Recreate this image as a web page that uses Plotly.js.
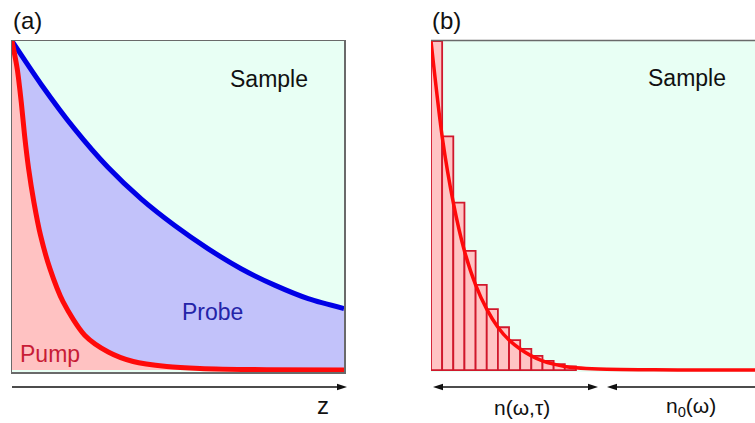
<!DOCTYPE html>
<html><head><meta charset="utf-8">
<script src="https://cdn.plot.ly/plotly-3.0.1.min.js"></script>
<style>html,body{margin:0;padding:0;background:#fff}#chart{width:755px;height:423px}</style>
</head><body><div id="chart"></div>
<script>
// Panel (a): depth z and normalised intensities
const pumpZ = [0, 0.16, 0.28, 0.38, 0.50, 0.66, 0.86, 1.14, 1.54, 2.19, 2.9, 3.65, 4.66, 5.66, 7.67, 10];
const pumpI = [1, 0.914, 0.813, 0.712, 0.612, 0.51, 0.409, 0.309, 0.207, 0.106, 0.055, 0.026, 0.011, 0.005, 0.001, 0];
const probeZ = [0, 0.88, 1.89, 2.89, 3.89, 4.90, 5.90, 6.90, 7.91, 8.92, 10];
const probeI = [1, 0.868, 0.732, 0.616, 0.52, 0.439, 0.369, 0.308, 0.258, 0.217, 0.187];

// Panel (b): discretised slabs and the continuous distribution
const slabX = [0.5, 1.5, 2.5, 3.5, 4.5, 5.5, 6.5, 7.5, 8.5, 9.5, 10.5, 11.5, 12.5];
const slabN = [1.0, 0.71, 0.509, 0.362, 0.259, 0.185, 0.13, 0.091, 0.064, 0.043, 0.028, 0.018, 0.011];
const distX = [0, 1, 2, 3, 4, 5, 6, 7, 8, 9, 10, 11, 12, 13, 15, 17, 20, 24, 29.1];
const distN = [1.0, 0.71, 0.509, 0.362, 0.259, 0.185, 0.13, 0.091, 0.064, 0.043, 0.028, 0.018, 0.011, 0.007, 0.003, 0.0015, 0.0005, 0, 0];

const labels = {a: '(a)', b: '(b)', sample: 'Sample', probe: 'Probe', pump: 'Pump', z: 'z',
  nLeft: 'n(ω,τ)', nRight: 'n<sub>0</sub>(ω)'};

const W = 755, H = 423;
const px = x => x / W, py = y => (H - y) / H;
const FONT = '"Liberation Sans", Arial, sans-serif';

const traces = [
  {x: pumpZ, y: pumpI, xaxis: 'x', yaxis: 'y', mode: 'lines', fill: 'tozeroy',
   fillcolor: '#ffc2c2', line: {width: 0, shape: 'spline', smoothing: 0.8}, hoverinfo: 'skip'},
  {x: probeZ, y: probeI, xaxis: 'x', yaxis: 'y', mode: 'lines', fill: 'tonexty',
   fillcolor: '#c2c2fa', line: {width: 0, shape: 'spline', smoothing: 0.8}, hoverinfo: 'skip'},
  {x: probeZ, y: probeI, xaxis: 'x', yaxis: 'y', mode: 'lines',
   line: {color: '#0000e6', width: 5, shape: 'spline', smoothing: 0.8}},
  {x: pumpZ, y: pumpI, xaxis: 'x', yaxis: 'y', mode: 'lines',
   line: {color: '#ff0a0a', width: 5, shape: 'spline', smoothing: 0.8}},
  {type: 'bar', x: slabX, y: slabN, width: 1, xaxis: 'x2', yaxis: 'y2',
   marker: {color: '#ffc4c4', line: {color: '#d0182c', width: 1.8}}},
  {x: distX, y: distN, xaxis: 'x2', yaxis: 'y2', mode: 'lines',
   line: {color: '#ff0a0a', width: 3.5, shape: 'spline', smoothing: 0.8}}
];

const yr = [-0.006, 1.0];
const ydom = [51 / H, 382 / H];
const hide = {showgrid: false, zeroline: false, showticklabels: false, ticks: ''};

const textAnn = (t, x, y, size, color, xanchor) => ({
  text: t, xref: 'paper', yref: 'paper', x: px(x), y: py(y), showarrow: false,
  xanchor: xanchor || 'center', yanchor: 'middle',
  font: {family: FONT, size: size, color: color}
});

// arrow drawing helpers (pixel positions -> paper shapes)
const ARROW = '#111';
const shaft = (x0, x1, y) => ({type: 'line', xref: 'paper', yref: 'paper',
  x0: px(x0), x1: px(x1), y0: py(y), y1: py(y), line: {color: ARROW, width: 1.4}});
const head = (xTip, y, dir) => {
  const L = 10, h = 3.2, xb = xTip - dir * L;
  return {type: 'path', xref: 'paper', yref: 'paper', fillcolor: ARROW, line: {width: 0},
    path: `M ${px(xTip)} ${py(y)} L ${px(xb)} ${py(y - h)} L ${px(xb)} ${py(y + h)} Z`};
};

const layout = {
  width: W, height: H, margin: {l: 0, r: 0, t: 0, b: 0}, showlegend: false,
  paper_bgcolor: '#ffffff', plot_bgcolor: '#e8fff4',
  font: {family: FONT},
  xaxis: Object.assign({domain: [12 / W, 344 / W], range: [0, 10], anchor: 'y',
    showline: true, mirror: true, linecolor: '#6a6a6a', linewidth: 1.5}, hide),
  yaxis: Object.assign({domain: ydom, range: yr, anchor: 'x',
    showline: true, mirror: true, linecolor: '#6a6a6a', linewidth: 1.5}, hide),
  xaxis2: Object.assign({domain: [431 / W, 1], range: [0, 29.06], anchor: 'y2', showline: false}, hide),
  yaxis2: Object.assign({domain: ydom, range: yr, anchor: 'x2', showline: false}, hide),
  bargap: 0,
  shapes: [
    {type: 'line', xref: 'paper', yref: 'paper', x0: px(431), x1: 1, y0: py(40.5), y1: py(40.5),
     line: {color: '#6a6a6a', width: 1.5}},
    shaft(12, 340, 387), head(347, 387, 1),
    shaft(436, 594, 387), head(433, 387, -1), head(598, 387, 1),
    shaft(611, 755, 387), head(607, 387, -1)
  ],
  annotations: [
    textAnn(labels.a, 11, 21, 24, '#111', 'left'),
    textAnn(labels.b, 430, 21, 24, '#111', 'left'),
    textAnn(labels.sample, 269, 79, 23, '#111'),
    textAnn(labels.sample, 687, 78, 23, '#111'),
    textAnn(labels.probe, 212, 312, 23, '#2424a8'),
    textAnn(labels.pump, 50, 354, 23, '#c81c36'),
    textAnn(labels.z, 323, 405, 24, '#111'),
    textAnn(labels.nLeft, 522, 407, 21, '#111'),
    textAnn(labels.nRight, 691, 407, 21, '#111')
  ]
};

Plotly.newPlot('chart', traces, layout, {staticPlot: true, displayModeBar: false});
</script>
</body></html>
